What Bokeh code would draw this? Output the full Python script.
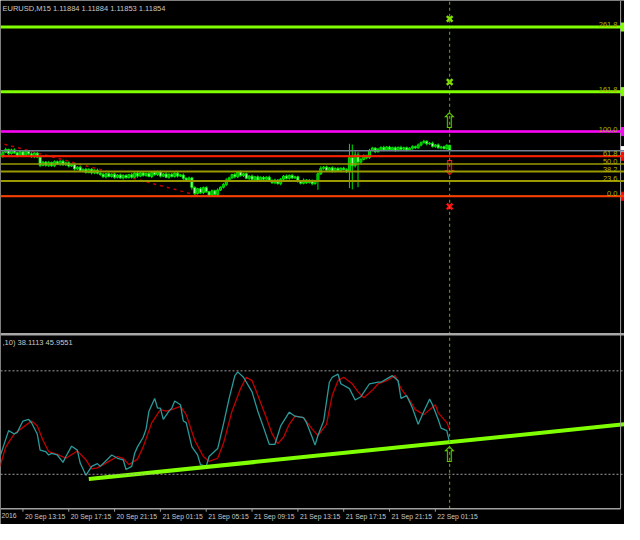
from bokeh.plotting import figure
from bokeh.models import Range1d, Span, Label, LabelSet, ColumnDataSource
from bokeh.embed import file_html
from bokeh.resources import INLINE
from bokeh.core.properties import value

# ---------------- data ----------------
symbol_title = "EURUSD,M15  1.11884 1.11884 1.11853 1.11854"
osc_title = ",10) 38.1113 45.9551"

bar_start = -8            # bar index of first visible candle (bar 0 = 20 Sep 13:15, M15)
first_open = 1.11832
closes = [
    1.11822, 1.11845, 1.11860, 1.11838, 1.11858, 1.11842, 1.11825, 1.11848, 1.11828, 1.11850,
    1.11836, 1.11820, 1.11840, 1.11818, 1.11772, 1.11790, 1.11772, 1.11788, 1.11770, 1.11792,
    1.11778, 1.11795, 1.11775, 1.11786, 1.11768, 1.11776, 1.11752, 1.11762, 1.11742, 1.11750,
    1.11732, 1.11750, 1.11730, 1.11745, 1.11728, 1.11722, 1.11708, 1.11725, 1.11710, 1.11722,
    1.11705, 1.11718, 1.11702, 1.11716, 1.11704, 1.11720, 1.11706, 1.11728, 1.11712, 1.11730,
    1.11716, 1.11726, 1.11710, 1.11734, 1.11720, 1.11736, 1.11712, 1.11724, 1.11706, 1.11722,
    1.11710, 1.11728, 1.11712, 1.11718, 1.11700, 1.11690, 1.11702, 1.11648, 1.11615, 1.11642,
    1.11620, 1.11648, 1.11625, 1.11606, 1.11630, 1.11610, 1.11635, 1.11650, 1.11665, 1.11690,
    1.11702, 1.11720, 1.11708, 1.11735, 1.11715, 1.11725, 1.11700, 1.11712, 1.11694, 1.11708,
    1.11690, 1.11705, 1.11695, 1.11706, 1.11688, 1.11675, 1.11690, 1.11670, 1.11695, 1.11712,
    1.11700, 1.11716, 1.11702, 1.11708, 1.11685, 1.11672, 1.11690, 1.11676, 1.11688, 1.11670,
    1.11682, 1.11725, 1.11755, 1.11762, 1.11745, 1.11758, 1.11740, 1.11755, 1.11742, 1.11756,
    1.11748, 1.11740, 1.11815, 1.11770, 1.11830, 1.11790, 1.11805, 1.11825, 1.11815, 1.11855,
    1.11868, 1.11848, 1.11862, 1.11872, 1.11858, 1.11874, 1.11860, 1.11870, 1.11856, 1.11872,
    1.11862, 1.11870, 1.11858, 1.11868, 1.11876, 1.11870, 1.11885, 1.11898, 1.11906, 1.11892,
    1.11895, 1.11878, 1.11886, 1.11870, 1.11875, 1.11866, 1.11884, 1.11854,
]
wick_up_pts = [
    8, 6, 10, 5, 7, 9, 6, 8, 5, 7,   6, 9, 5, 8, 4, 7, 6, 9, 5, 8,
    7, 5, 9, 6, 8, 5, 7, 6, 9, 5,    8, 6, 7, 5, 9, 6, 8, 5, 7, 6,
    9, 5, 8, 6, 7, 5, 9, 6, 8, 5,    7, 6, 9, 5, 8, 6, 7, 5, 9, 6,
    8, 5, 7, 6, 9, 5, 8, 6, 7, 5,    9, 6, 8, 5, 7, 6, 9, 5, 8, 10,
    7, 5, 9, 6, 8, 5, 7, 6, 9, 5,    8, 6, 7, 5, 9, 6, 8, 5, 7, 6,
    9, 5, 8, 6, 7, 5, 9, 6, 8, 5,    7, 8, 12, 6, 8, 5, 9, 6, 7, 5,
    8, 8, 77, 73, 20, 15, 10, 8, 6, 9,  7, 5, 8, 6, 9, 5, 7, 6, 8, 5,
    9, 6, 7, 5, 8, 6, 9, 7, 8, 6,    7, 9, 5, 8, 6, 7, 5, 0,
]
wick_dn_pts = [
    6, 8, 5, 9, 6, 7, 8, 5, 9, 6,    7, 5, 8, 6, 10, 5, 7, 9, 6, 8,
    5, 9, 6, 7, 8, 5, 9, 6, 7, 8,    6, 5, 9, 7, 6, 8, 5, 9, 6, 7,
    8, 6, 5, 9, 7, 6, 8, 5, 9, 6,    7, 8, 5, 9, 6, 7, 8, 6, 5, 9,
    6, 7, 8, 5, 9, 6, 7, 12, 8, 6,   7, 9, 6, 8, 10, 5, 9, 6, 7, 8,
    6, 5, 9, 7, 6, 8, 5, 9, 6, 7,    8, 6, 5, 9, 7, 6, 8, 5, 9, 6,
    7, 8, 6, 5, 9, 7, 6, 8, 5, 9,    6, 46, 7, 8, 6, 5, 9, 7, 6, 8,
    5, 10, 95, 132, 10, 140, 8, 6, 9, 7,  6, 8, 5, 9, 7, 6, 8, 5, 9, 6,
    7, 5, 8, 6, 9, 7, 6, 8, 5, 9,    6, 7, 8, 5, 9, 6, 8, 1,
]

# Fibonacci retracement object
fib_low = 1.11600
fib_high = 1.11960
fib_anchor_bars = [-23, 62]
fib_anchor_prices = [1.11960, 1.11600]
fib_levels = [0.0, 23.6, 38.2, 50.0, 61.8, 100.0, 161.8, 261.8]
fib_labels = ["0.0", "23.6", "38.2", "50.0", "61.8", "100.0", "161.8", "261.8"]
# user horizontal lines placed on some of the levels
hline_levels = [261.8, 161.8, 100.0, 61.8, 0.0]
hline_colors = ["#7fff00", "#7fff00", "#ff00ff", "#ff1a00", "#ff3a00"]

# signal markers on the last bar
signal_bar = 149
green_x_prices = [1.12588, 1.12236]
red_x_prices = [1.11543]
up_arrow_price = 1.12020
down_arrow_price = 1.11758
osc_up_arrow_value = 31.4

# oscillator (main = teal, signal = red), read as (bar, value) points
main_bars = [-8, -5, -3, -2, 0, 2, 3, 5, 6, 8, 9, 10, 12, 14, 15, 17, 19, 20, 22, 24,
             26, 27, 29, 31, 33, 35, 36, 38, 39, 40, 42, 43, 44, 46, 47, 48, 49, 51, 52, 53,
             55, 56, 57, 59, 61, 62, 64, 65, 68, 70, 72, 74, 75, 77, 80, 82, 84, 86, 88, 90,
             93, 95, 98, 99, 101, 102, 103, 105, 107, 108, 110, 111, 114, 116, 118, 121, 124, 125, 127, 129,
             131, 132, 134, 136, 138, 140, 142, 143, 145, 146, 148, 149]
main_vals = [30.3, 45.3, 43.4, 44.3, 50.9, 51.8, 49.9, 43.4, 34.0, 33.1, 31.2, 32.1, 31.2, 26.9, 30.3, 36.3, 34.0, 26.5, 19.4, 24.6,
             26.2, 24.6, 27.9, 31.2, 29.3, 28.4, 22.8, 24.6, 32.1, 35.9, 41.5, 46.2, 56.6, 64.0, 58.4, 58.4, 51.8, 56.6, 58.4, 62.5,
             60.3, 50.9, 50.0, 35.9, 31.2, 25.6, 24.6, 30.3, 34.9, 49.0, 64.0, 77.2, 79.4, 76.3, 67.8, 56.6, 47.2, 37.4, 37.4, 48.1,
             56.0, 53.7, 52.8, 50.0, 41.5, 36.9, 42.5, 50.9, 73.4, 76.3, 78.1, 72.5, 69.7, 63.1, 65.0, 72.5, 73.4, 73.4, 75.3, 77.2,
             74.3, 64.0, 65.6, 58.4, 49.0, 56.6, 63.6, 60.3, 51.8, 46.8, 45.3, 38.1113]
signal_bars = [-8, -6, -3, 0, 3, 5, 7, 9, 12, 15, 19, 22, 24, 26, 30, 33, 35, 37, 40, 42,
               45, 48, 50, 52, 55, 57, 60, 63, 65, 68, 70, 73, 76, 78, 80, 82, 85, 87, 89, 91,
               93, 95, 98, 101, 103, 106, 108, 110, 112, 115, 117, 119, 122, 124, 127, 130, 132, 135, 137, 140,
               142, 144, 145, 148, 149]
signal_vals = [24.6, 35.9, 43.4, 47.2, 50.9, 48.1, 39.7, 33.1, 31.6, 29.3, 33.5, 28.4, 23.1, 23.7, 27.5, 30.3, 29.3, 25.6, 28.8, 35.9,
               50.0, 57.5, 56.6, 57.5, 59.4, 54.6, 39.7, 30.3, 27.5, 29.3, 37.8, 56.6, 69.7, 76.3, 74.3, 65.9, 52.8, 43.4, 37.8, 41.5,
               49.0, 53.7, 52.8, 46.2, 42.5, 49.0, 65.9, 74.3, 76.3, 72.5, 67.8, 64.4, 68.7, 72.5, 74.3, 77.2, 69.7, 63.1, 57.5, 54.6,
               57.5, 60.3, 55.6, 50.0, 45.9551]
osc_levels = [80, 20]
trend_bars = [23, 210]
trend_vals = [17.3, 49.0]

# time axis
tick_bars = [0, 16, 32, 48, 64, 80, 96, 112, 128, 144]
tick_labels = ["20 Sep 13:15", "20 Sep 17:15", "20 Sep 21:15", "21 Sep 01:15",
               "21 Sep 05:15", "21 Sep 09:15", "21 Sep 13:15", "21 Sep 17:15", "21 Sep 21:15",
               "22 Sep 01:15"]
first_date_text = "2016"

# ---------------- layout (reference pixel geometry) ----------------
REF_W, REF_H = 640.0, 540.0
BAR_PX, BAR0_X = 2.9375, 23.0
PX_PER_PRICE = 18500.0
FIB_LOW_Y = 201.7
OSC_ZERO_Y, OSC_PX_PER_UNIT = 523.8, 1.777
FRAME_W, FRAME_H = 624, 524
FONT = "Liberation Sans"
FS = "7.5px"
FS_AXIS = "6.8px"
ARROW_FS = "21px"

x_start = -BAR0_X / BAR_PX
x_end = (REF_W - BAR0_X) / BAR_PX
price_top = fib_low + FIB_LOW_Y / PX_PER_PRICE
price_bottom = price_top - REF_H / PX_PER_PRICE
osc_top = OSC_ZERO_Y / OSC_PX_PER_UNIT
osc_bottom = -(REF_H - OSC_ZERO_Y) / OSC_PX_PER_UNIT
separator_value = (OSC_ZERO_Y - 344.0) / OSC_PX_PER_UNIT
right_border_bar = (636.0 - BAR0_X) / BAR_PX
tick_len = 3.0 / OSC_PX_PER_UNIT

p = figure(frame_width=FRAME_W, frame_height=FRAME_H,
           x_range=Range1d(x_start, x_end), y_range=Range1d(price_bottom, price_top),
           output_backend="svg", toolbar_location=None,
           x_axis_location=None, y_axis_location=None,
           background_fill_color="black", border_fill_color="black",
           outline_line_color=None, min_border=0)
p.extra_y_ranges = {"osc": Range1d(osc_bottom, osc_top)}
p.xgrid.visible = False
p.ygrid.visible = False

# ---------------- price panel ----------------
n = len(closes)
bars = list(range(bar_start, bar_start + n))
opens = [first_open] + closes[:-1]
highs = [max(o, c) + u / 1e5 for o, c, u in zip(opens, closes, wick_up_pts)]
lows = [min(o, c) - d / 1e5 for o, c, d in zip(opens, closes, wick_dn_pts)]
fills = ["#00a000" if c >= o else "#c8ffc8" for o, c in zip(opens, closes)]
src = ColumnDataSource(dict(x=bars, o=opens, c=closes, h=highs, l=lows,
                            top=[max(o, c) for o, c in zip(opens, closes)],
                            bot=[min(o, c) for o, c in zip(opens, closes)], fill=fills))

fib_prices = [fib_low + lv / 100.0 * (fib_high - fib_low) for lv in fib_levels]
for lv, pr in zip(fib_levels, fib_prices):
    p.add_layout(Span(location=pr, dimension="width", line_color="#9a9a00",
                      line_width=2 if lv in (38.2, 23.6) else 1.5))
for lv, col in zip(hline_levels, hline_colors):
    pr = fib_low + lv / 100.0 * (fib_high - fib_low)
    w = 3 if lv > 100 else (2.5 if lv == 100 else 2)
    p.add_layout(Span(location=pr, dimension="width", line_color=col, line_width=w))
# bid line
p.add_layout(Span(location=closes[-1], dimension="width", line_color="#708090", line_width=1.5))

p.line(fib_anchor_bars, fib_anchor_prices, line_color="#c00000", line_width=1.5, line_dash="3 4")

p.segment(x0="x", y0="l", x1="x", y1="h", source=src, line_color="#00e600", line_width=1)
p.vbar(x="x", width=0.72, top="top", bottom="bot", source=src,
       fill_color="fill", line_color="#00e600", line_width=1)

fib_src = ColumnDataSource(dict(y=fib_prices, t=fib_labels))
p.add_layout(LabelSet(x=FRAME_W - 7, y="y", x_units="screen", text="t", source=fib_src,
                      text_align="right", text_baseline="bottom", text_color="#b4b400",
                      text_font=value(FONT), text_font_size=value(FS)))

# price-axis level tags at the right border
tag_prices = [fib_prices[7], fib_prices[6], fib_prices[5], closes[-1], fib_prices[4], fib_prices[0]]
tag_cols = ["#7fff00", "#7fff00", "#ff00ff", "#ffffff", "#ff0000", "#ff0000"]
p.scatter([x_end] * len(tag_prices), tag_prices, marker="square", size=8,
          fill_color=tag_cols, line_color=tag_cols)

# signal markers
p.scatter([signal_bar] * len(green_x_prices), green_x_prices, marker="x", size=8,
          line_color="#80e000", line_width=2.5)
p.scatter([signal_bar] * len(red_x_prices), red_x_prices, marker="x", size=8,
          line_color="#ff1010", line_width=2.5)
p.text([signal_bar], [up_arrow_price], text=["\u21e7"], text_color="#66cc00",
       text_align="center", text_baseline="middle", text_font=value("DejaVu Sans"),
       text_font_size=value(ARROW_FS))
p.text([signal_bar], [down_arrow_price], text=["\u21e9"], text_color="#ff1a1a",
       text_align="center", text_baseline="middle", text_font=value("DejaVu Sans"),
       text_font_size=value(ARROW_FS))

# ---------------- oscillator panel ----------------
p.add_layout(Span(location=separator_value, dimension="width", y_range_name="osc",
                  line_color="#a8a8a8", line_width=2.5))
for lv in osc_levels:
    p.add_layout(Span(location=lv, dimension="width", y_range_name="osc",
                      line_color="#a0a0a0", line_width=1, line_dash="2 2"))
p.line(signal_bars, signal_vals, y_range_name="osc", line_color="#c00000", line_width=1.3)
p.line(main_bars, main_vals, y_range_name="osc", line_color="#2a9a9a", line_width=1.3)
p.line(trend_bars, trend_vals, y_range_name="osc", line_color="#7fff00", line_width=4)
p.text([signal_bar], [osc_up_arrow_value], text=["\u21e7"], y_range_name="osc",
       text_color="#66cc00", text_align="center", text_baseline="middle",
       text_font=value("DejaVu Sans"), text_font_size=value(ARROW_FS))

# vertical dashed cursor line through both panels, right border, time axis line
p.segment(x0=[signal_bar], y0=[0], x1=[signal_bar], y1=[osc_top], y_range_name="osc",
          line_color="#6aae00", line_width=1, line_dash="3 3")
p.segment(x0=[right_border_bar], y0=[0], x1=[right_border_bar], y1=[osc_top],
          y_range_name="osc", line_color="#a0a0a0", line_width=1)
p.segment(x0=[x_start], y0=[0], x1=[right_border_bar], y1=[0], y_range_name="osc",
          line_color="#a0a0a0", line_width=1.5)
p.segment(x0=tick_bars, y0=[0] * len(tick_bars), x1=tick_bars,
          y1=[-tick_len] * len(tick_bars), y_range_name="osc",
          line_color="#a0a0a0", line_width=1)

# ---------------- texts ----------------
p.add_layout(Label(x=2, y=FRAME_H - 3, x_units="screen", y_units="screen",
                   text=symbol_title, text_baseline="top", text_color="#c8c8c8",
                   text_font=FONT, text_font_size=FS))
p.add_layout(Label(x=2, y=(OSC_ZERO_Y - 347.5) / OSC_PX_PER_UNIT,
                   x_units="screen", y_range_name="osc",
                   text=osc_title, text_baseline="top", text_color="#c8c8c8",
                   text_font=FONT, text_font_size=FS))
tick_src = ColumnDataSource(dict(x=tick_bars, t=tick_labels))
p.add_layout(LabelSet(x="x", y=-tick_len * 1.3, y_range_name="osc", x_offset=2, text="t",
                      source=tick_src, text_align="left", text_baseline="top",
                      text_color="#c8c8c8", text_font=value(FONT), text_font_size=value(FS_AXIS)))
p.add_layout(Label(x=1, y=-tick_len * 1.3, x_units="screen", y_range_name="osc",
                   text=first_date_text, text_align="left", text_baseline="top",
                   text_color="#c8c8c8", text_font=FONT, text_font_size=FS_AXIS))

open("out.html", "w").write(file_html(p, INLINE))
